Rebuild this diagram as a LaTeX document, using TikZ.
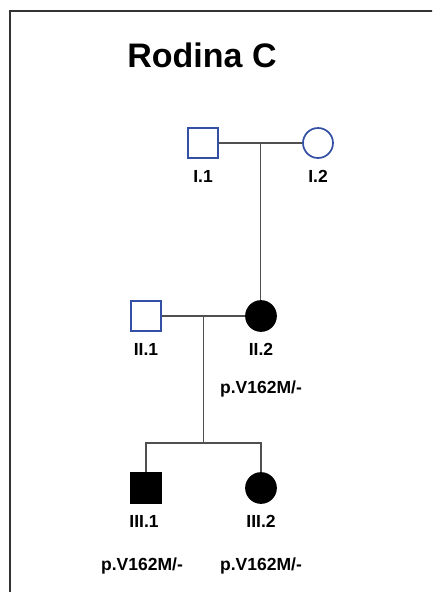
\documentclass[tikz,border=0pt]{standalone}
\usepackage{fontspec}
\setmainfont{Liberation Sans}
\usetikzlibrary{calc,positioning}
\definecolor{PedLine}{HTML}{505050}
\definecolor{PedBlue}{HTML}{3450A4}
\definecolor{PedFrame}{HTML}{333333}
\tikzset{
  every node/.style={font=\bfseries, text=black},
  male/.style={rectangle, draw=PedBlue, line width=1.7pt, fill=white, minimum size=30pt, inner sep=0pt},
  female/.style={circle, draw=PedBlue, line width=1.7pt, fill=white, minimum size=30pt, inner sep=0pt},
  affected/.style={draw=black, fill=black},
  link/.style={draw=PedLine, line width=1.5pt},
  idlabel/.style={anchor=base, font=\bfseries\fontsize{17.5}{20}\selectfont},
}

\begin{document}
\begin{tikzpicture}[x=1pt,y=-1pt]
  \useasboundingbox (0,0) rectangle (432,592);
  \clip (0,0) rectangle (432,592);
  % Frame (cut off at right and bottom)
  \draw[PedFrame, line width=1.5pt] (10,600) -- (10,11) -- (440,11);
  \node[anchor=base, font=\bfseries\fontsize{34}{38}\selectfont] (title) at (202,67) {Rodina C};
  % Generation I
  \node[male] (I1) at (203,143) {};
  \node[female] (I2) at (318,143) {};
  \node[idlabel] (lI1) at (203,182) {I.1};
  \node[idlabel] (lI2) at (318,182) {I.2};
  % Generation II
  \node[male] (II1) at (146,316) {};
  \node[female, affected] (II2) at (261,316) {};
  \node[idlabel] (lII1) at (146,355) {II.1};
  \node[idlabel] (lII2) at (261,355) {II.2};
  \node[idlabel] (gII2) at (261,393) {p.V162M/-};
  % Generation III
  \node[male, affected] (III1) at (146,488) {};
  \node[female, affected] (III2) at (261,488) {};
  \node[idlabel] (lIII1) at (144,527) {III.1};
  \node[idlabel] (lIII2) at (261,527) {III.2};
  \node[idlabel] (gIII1) at (142,570) {p.V162M/-};
  \node[idlabel] (gIII2) at (261,570) {p.V162M/-};
  % Marriage and descent lines
  \coordinate (m1) at ($(I1.east)!0.5!(I2.west)$);
  \coordinate (m2) at ($(II1.east)!0.5!(II2.west)$);
  \coordinate (s3) at (m2 |- 0,443);
  \draw[link] (I1.east) -- (I2.west);
  \draw[link] (m1) -- (m1 |- II2.north);
  \draw[link] (II1.east) -- (II2.west);
  \draw[link] (m2) -- (s3);
  \draw[link] (III1.north) |- (s3) -| (III2.north);
\end{tikzpicture}
\end{document}
